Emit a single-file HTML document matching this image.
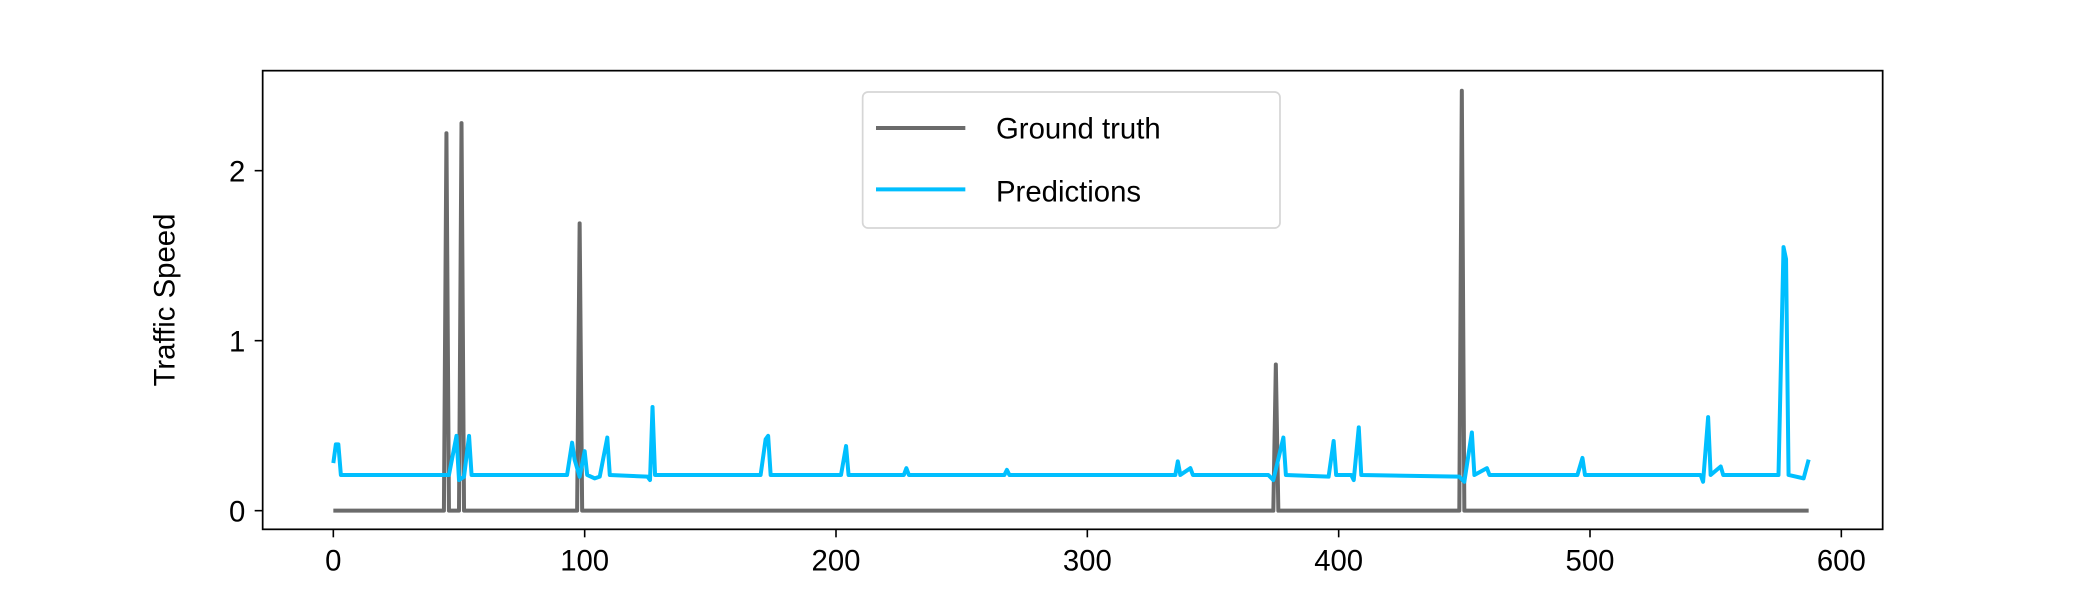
<!DOCTYPE html>
<html><head><meta charset="utf-8"><style>
html,body{margin:0;padding:0;background:#fff;}
svg{display:block;font-family:"Liberation Sans","DejaVu Sans",sans-serif;}
</style></head><body>
<svg id="chart" width="2100" height="600" viewBox="0 0 1575 450" xmlns="http://www.w3.org/2000/svg">
<rect width="1575" height="450" fill="#fff"/>
<g id="plot"></g>
<rect x="197" y="53" width="1215" height="344" fill="none" stroke="#000" stroke-width="1.3"/>
<g id="axes"></g>
<text transform="translate(131,225) rotate(-90)" text-anchor="middle" font-size="22">Traffic Speed</text>
<g>
<rect x="647" y="69" width="313" height="102" rx="4" fill="#fff" fill-opacity="0.85" stroke="#d6d6d6" stroke-width="1.3"/>
<line x1="657" y1="96" x2="724" y2="96" stroke="#6b6b6b" stroke-width="3"/>
<text x="747" y="104" font-size="22">Ground truth</text>
<line x1="657" y1="142" x2="724" y2="142" stroke="#00bfff" stroke-width="3"/>
<text x="747" y="151" font-size="22">Predictions</text>
</g>
</svg>
<script>
const gtX=[0,44,45,46,50,51,52,97,98,99,374,375,376,448,449,450,587];
const gtY=[0,0,2.22,0,0,2.28,0,0,1.69,0,0,0.86,0,0,2.47,0,0];
const predX=[0,1,2,3,46,49,50,52,54,55,93,95,96,98,100,101,104,106,109,110,125,126,127,128,170,172,173,174,202,204,205,227,228,229,267,268,269,335,336,337,341,342,372,374,378,379,396,398,399,405,406,408,409,448,450,453,454,459,460,495,497,498,544,545,547,548,552,553,575,577,578,579,585,587];
const predY=[0.28,0.39,0.39,0.21,0.21,0.44,0.18,0.2,0.44,0.21,0.21,0.4,0.3,0.2,0.35,0.21,0.19,0.2,0.43,0.21,0.2,0.18,0.61,0.21,0.21,0.42,0.44,0.21,0.21,0.38,0.21,0.21,0.25,0.21,0.21,0.24,0.21,0.21,0.29,0.21,0.25,0.21,0.21,0.18,0.43,0.21,0.2,0.41,0.21,0.21,0.18,0.49,0.21,0.2,0.17,0.46,0.21,0.25,0.21,0.21,0.31,0.21,0.21,0.17,0.55,0.21,0.26,0.21,0.21,1.55,1.48,0.21,0.19,0.3];
const xTicks=[0,100,200,300,400,500,600];
const yTicks=[0,1,2];
const sx=v=>250+v*1.885;
const sy=v=>383-v*127.5;
const NS="http://www.w3.org/2000/svg";
const plot=document.getElementById('plot'),axes=document.getElementById('axes');
function line(xs,ys,color,name){
  const p=document.createElementNS(NS,'polyline');
  p.setAttribute('points',xs.map((x,i)=>sx(x)+','+sy(ys[i])).join(' '));
  p.setAttribute('fill','none');p.setAttribute('stroke',color);p.setAttribute('stroke-width','3');p.setAttribute('stroke-linejoin','round');
  
  
  plot.appendChild(p);
}
line(gtX,gtY,'#6b6b6b','ground-truth-line');
line(predX,predY,'#00bfff','predictions-line');
xTicks.forEach(t=>{
  const l=document.createElementNS(NS,'line');
  l.setAttribute('x1',sx(t));l.setAttribute('x2',sx(t));l.setAttribute('y1',397);l.setAttribute('y2',403);l.setAttribute('stroke','#000');l.setAttribute('stroke-width','1.2');
  
  
  axes.appendChild(l);
  const tx=document.createElementNS(NS,'text');
  tx.setAttribute('x',sx(t));tx.setAttribute('y',428);tx.setAttribute('text-anchor','middle');tx.setAttribute('font-size','22');
  tx.textContent=t;
  
  
  axes.appendChild(tx);
});
yTicks.forEach(t=>{
  const l=document.createElementNS(NS,'line');
  l.setAttribute('x1',191);l.setAttribute('x2',197);l.setAttribute('y1',sy(t));l.setAttribute('y2',sy(t));l.setAttribute('stroke','#000');l.setAttribute('stroke-width','1.2');
  
  
  axes.appendChild(l);
  const tx=document.createElementNS(NS,'text');
  tx.setAttribute('x',184);tx.setAttribute('y',sy(t)+8);tx.setAttribute('text-anchor','end');tx.setAttribute('font-size','22');
  tx.textContent=t;
  
  
  axes.appendChild(tx);
});
</script>
</body></html>
